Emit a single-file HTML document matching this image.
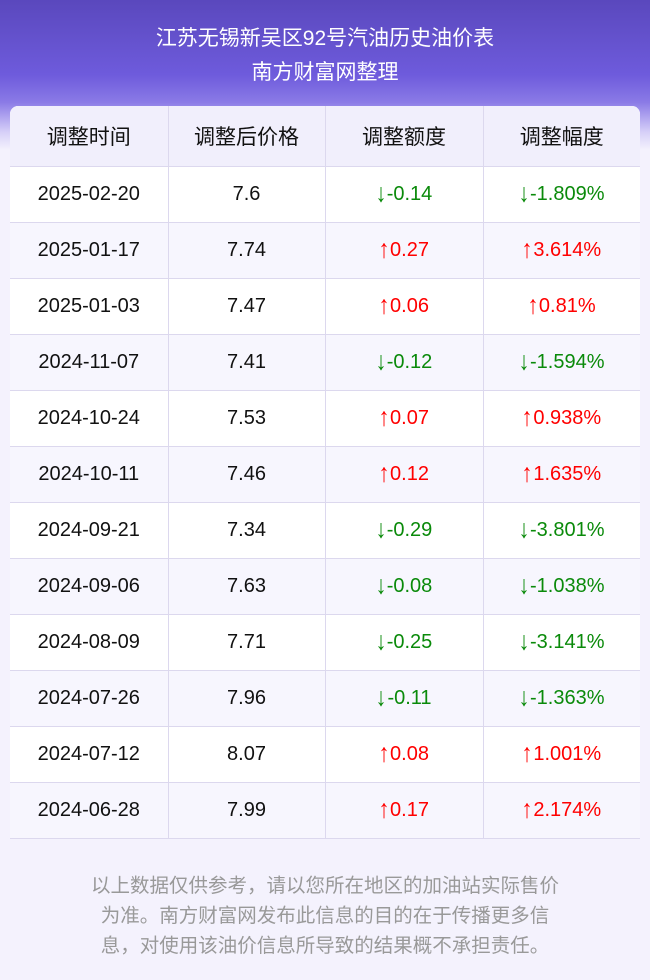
<!DOCTYPE html>
<html><head><meta charset="utf-8"><style>
*{margin:0;padding:0;box-sizing:border-box}
body{width:650px;height:980px;background:#f4f2fd;font-family:"Liberation Sans","Noto Sans CJK SC",sans-serif;position:relative;overflow:hidden}
.hdr{position:absolute;left:0;top:0;width:650px;height:150px;background:linear-gradient(180deg,#5a48bd 0%,#6e5bdc 50%,#8a7ae6 68%,#d6cff8 88%,#f4f2fd 100%)}
.t{position:absolute;left:0;width:650px;text-align:center;color:#fff;font-size:21px}
table{position:absolute;left:10px;top:106px;width:630px;border-collapse:collapse;background:#fff;border-radius:8px 8px 0 0;overflow:hidden}
td{height:56px;text-align:center;font-size:20px;color:#111;border-right:1px solid #dcd8ee;border-bottom:1px solid #dcd8ee}
td:last-child{border-right:none}
tr.h td{height:60px;background:#f1effc;font-size:21px}
tr:nth-child(odd):not(.h) td{background:#f7f6fe}
.g{color:#0a8a0a}.r{color:#f00}
.a{display:inline-block;transform:scale(1.1,1.3);margin-right:1px}
.f{position:absolute;left:0;width:650px;text-align:center;color:#999;font-size:19.5px}
</style></head><body>
<div class="hdr"></div>
<div class="t" style="top:22px">江苏无锡新吴区92号汽油历史油价表</div>
<div class="t" style="top:56px">南方财富网整理</div>
<table>
<tr class="h"><td style="width:158px">调整时间</td><td style="width:157px">调整后价格</td><td style="width:158px">调整额度</td><td>调整幅度</td></tr>
<tr><td>2025-02-20</td><td>7.6</td><td class="g"><span class="a">↓</span>-0.14</td><td class="g"><span class="a">↓</span>-1.809%</td></tr>
<tr><td>2025-01-17</td><td>7.74</td><td class="r"><span class="a">↑</span>0.27</td><td class="r"><span class="a">↑</span>3.614%</td></tr>
<tr><td>2025-01-03</td><td>7.47</td><td class="r"><span class="a">↑</span>0.06</td><td class="r"><span class="a">↑</span>0.81%</td></tr>
<tr><td>2024-11-07</td><td>7.41</td><td class="g"><span class="a">↓</span>-0.12</td><td class="g"><span class="a">↓</span>-1.594%</td></tr>
<tr><td>2024-10-24</td><td>7.53</td><td class="r"><span class="a">↑</span>0.07</td><td class="r"><span class="a">↑</span>0.938%</td></tr>
<tr><td>2024-10-11</td><td>7.46</td><td class="r"><span class="a">↑</span>0.12</td><td class="r"><span class="a">↑</span>1.635%</td></tr>
<tr><td>2024-09-21</td><td>7.34</td><td class="g"><span class="a">↓</span>-0.29</td><td class="g"><span class="a">↓</span>-3.801%</td></tr>
<tr><td>2024-09-06</td><td>7.63</td><td class="g"><span class="a">↓</span>-0.08</td><td class="g"><span class="a">↓</span>-1.038%</td></tr>
<tr><td>2024-08-09</td><td>7.71</td><td class="g"><span class="a">↓</span>-0.25</td><td class="g"><span class="a">↓</span>-3.141%</td></tr>
<tr><td>2024-07-26</td><td>7.96</td><td class="g"><span class="a">↓</span>-0.11</td><td class="g"><span class="a">↓</span>-1.363%</td></tr>
<tr><td>2024-07-12</td><td>8.07</td><td class="r"><span class="a">↑</span>0.08</td><td class="r"><span class="a">↑</span>1.001%</td></tr>
<tr><td>2024-06-28</td><td>7.99</td><td class="r"><span class="a">↑</span>0.17</td><td class="r"><span class="a">↑</span>2.174%</td></tr>
</table>
<div class="f" style="top:869px">以上数据仅供参考，请以您所在地区的加油站实际售价</div>
<div class="f" style="top:899px">为准。南方财富网发布此信息的目的在于传播更多信</div>
<div class="f" style="top:929px">息，对使用该油价信息所导致的结果概不承担责任。</div>
</body></html>
